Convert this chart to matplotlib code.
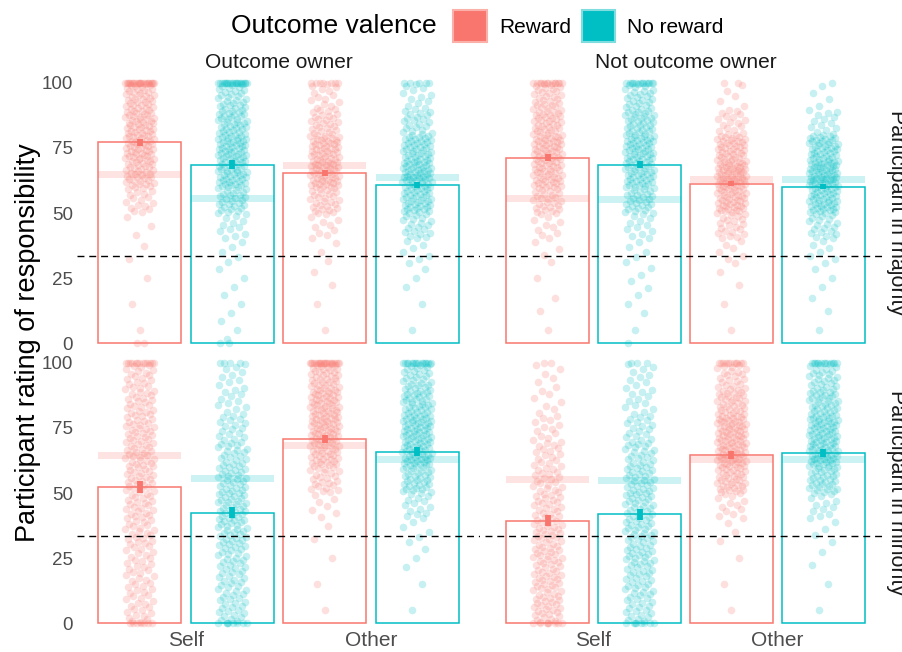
import numpy as np
import matplotlib.pyplot as plt
from matplotlib.patches import Patch

plt.rcParams['font.family'] = ['Liberation Sans', 'DejaVu Sans']

# labels
owner_labels = ["Outcome owner", "Not outcome owner"]
group_labels = ["Participant in majority", "Participant in minority"]
target_labels = ["Self", "Other"]
valence_labels = ["Reward", "No reward"]
colors = ["#F8766D", "#00BFC4"]
edge_light = ["#FBB0AA", "#7FDDE0"]

# bar order inside a panel: Self-Reward, Self-No reward, Other-Reward, Other-No reward
mean_maj_owner = [77.2, 68.6, 65.5, 60.8]
mean_maj_other = [71.3, 68.5, 61.3, 60.1]
mean_min_owner = [52.2, 42.4, 70.7, 65.9]
mean_min_other = [39.4, 41.8, 64.6, 65.3]

se_maj_owner = [1.35, 1.7, 1.15, 1.15]
se_maj_other = [1.5, 1.35, 0.95, 0.95]
se_min_owner = [2.35, 2.1, 1.45, 1.7]
se_min_other = [2.1, 2.1, 1.6, 1.65]

# light reference bands
ref_maj_owner = [64.8, 55.6, 68.2, 63.5]
ref_maj_other = [55.5, 55.1, 63.0, 62.7]
ref_min_owner = [64.5, 55.4, 68.1, 63.0]
ref_min_other = [55.3, 54.9, 63.0, 62.7]

# individual ratings, read as counts per 10-point bin (0-10 ... 90-100)
hist_maj_owner = [[1, 1, 1, 2, 3, 17, 34, 42, 39, 34],
                  [3, 3, 3, 5, 12, 29, 42, 44, 36, 27],
                  [1, 1, 2, 3, 10, 27, 44, 42, 25, 14],
                  [1, 1, 3, 7, 20, 39, 49, 39, 22, 12]]
hist_maj_other = [[1, 2, 1, 4, 10, 27, 39, 42, 34, 27],
                  [1, 3, 4, 5, 12, 29, 39, 42, 34, 25],
                  [1, 1, 2, 7, 20, 42, 53, 39, 17, 5],
                  [1, 2, 3, 7, 20, 44, 56, 42, 14, 4]]
hist_min_owner = [[17, 17, 17, 20, 22, 25, 27, 25, 22, 20],
                  [20, 20, 22, 27, 29, 27, 22, 17, 12, 10],
                  [1, 1, 1, 2, 7, 22, 36, 44, 42, 34],
                  [1, 1, 3, 5, 14, 32, 44, 44, 36, 27]]
hist_min_other = [[25, 25, 25, 25, 22, 20, 17, 12, 7, 6],
                  [20, 22, 25, 25, 27, 27, 22, 17, 12, 10],
                  [1, 1, 1, 3, 12, 34, 46, 44, 32, 22],
                  [1, 1, 2, 4, 12, 32, 46, 44, 34, 25]]
# ratings sitting exactly at 100 and at 0
n100_maj_owner = [22, 20, 7, 5]
n100_maj_other = [12, 12, 2, 1]
n100_min_owner = [12, 4, 20, 14]
n100_min_other = [2, 3, 10, 12]
n0_maj_owner = [2, 2, 0, 0]
n0_maj_other = [0, 1, 0, 0]
n0_min_owner = [7, 7, 0, 0]
n0_min_other = [7, 7, 0, 0]

panels = [
    [(mean_maj_owner, se_maj_owner, ref_maj_owner, hist_maj_owner, n100_maj_owner, n0_maj_owner),
     (mean_maj_other, se_maj_other, ref_maj_other, hist_maj_other, n100_maj_other, n0_maj_other)],
    [(mean_min_owner, se_min_owner, ref_min_owner, hist_min_owner, n100_min_owner, n0_min_owner),
     (mean_min_other, se_min_other, ref_min_other, hist_min_other, n100_min_other, n0_min_other)],
]


def ratings_from_hist(hist, n100, n0):
    vals = []
    for b, c in enumerate(hist):
        for k in range(c):
            vals.append(b * 10 + (k + 0.5) * 10 / c)
    vals += [100.0] * n100 + [0.0] * n0
    return np.array(vals)


def spread(n, base=2):
    # radical-inverse sequence, used only for the horizontal jitter position
    out = np.zeros(n)
    for i in range(n):
        f, r, k = 1.0, 0.0, i + 1
        while k > 0:
            f /= base
            r += f * (k % base)
            k //= base
        out[i] = r
    return out


W, H = 902, 652
fig = plt.figure(figsize=(W / 100, H / 100), dpi=100)

col_px = [(77, 480), (485, 886)]
row_px = [(75, 351), (355, 631)]

bar_w = 0.45
offsets = [-0.25, 0.25]

for r in range(2):
    for c in range(2):
        x0, x1 = col_px[c]
        y0, y1 = row_px[r]
        ax = fig.add_axes([x0 / W, 1 - y1 / H, (x1 - x0) / W, (y1 - y0) / H])
        means, ses, refs, hists, n100s, n0s = panels[r][c]
        for i in range(4):
            t, v = divmod(i, 2)
            xc = t + 1 + offsets[v]
            col = colors[v]
            ax.bar(xc, means[i], width=bar_w, facecolor='none', edgecolor=col,
                   linewidth=1.1, zorder=2)
            ax.bar(xc, 2.7, bottom=refs[i] - 1.35, width=bar_w, color=col,
                   alpha=0.2, linewidth=0, zorder=1)
            vals = ratings_from_hist(hists[i], n100s[i], n0s[i])
            jit = 0.08 * (2 * spread(len(vals), 2 + (i % 2)) - 1)
            ax.scatter(xc + jit, vals, s=30, color=col, alpha=0.22,
                       linewidths=0, zorder=3)
            ax.vlines(xc, means[i] - ses[i], means[i] + ses[i], color=col,
                      linewidth=4.2, zorder=4)
        ax.axhline(100 / 3, color='black', linestyle=(0, (5, 3.5)),
                   linewidth=1.0, zorder=5)
        ax.set_xlim(0.41, 2.59)
        ax.set_ylim(-3, 103)
        for s in ax.spines.values():
            s.set_visible(False)
        ax.tick_params(length=0, labelsize=13.5, labelcolor='#4D4D4D', pad=3)
        ax.set_yticks([0, 25, 50, 75, 100])
        ax.set_xticks([1, 2])
        if c == 0:
            ax.set_yticklabels(['0', '25', '50', '75', '100'])
        else:
            ax.set_yticklabels([])
        if r == 1:
            ax.set_xticklabels(target_labels, fontsize=15)
            ax.tick_params(axis='x', pad=0)
        else:
            ax.set_xticklabels([])
        if r == 0:
            ax.set_title(owner_labels[c], fontsize=15, color='#1A1A1A', pad=5)
        if c == 1:
            ax.text(1.0 + 11 / (x1 - x0), 0.5, group_labels[r], transform=ax.transAxes,
                    rotation=270, ha='center', va='center', fontsize=15.5,
                    color='#1A1A1A')

fig.text(28 / W, 1 - 343 / H, "Participant rating of responsibility", rotation=90,
         ha='center', va='center', fontsize=19.5)

fig.text(437 / W, 1 - 26 / H, "Outcome valence", ha='right', va='center', fontsize=19)
handles = [Patch(facecolor=colors[k], edgecolor=edge_light[k], linewidth=1.5)
           for k in range(2)]
leg = fig.legend(handles, valence_labels, ncol=2, loc='center left',
                 bbox_to_anchor=(445 / W, 1 - 26 / H), frameon=False,
                 fontsize=15, handlelength=1.6, handleheight=2.0,
                 handletextpad=0.6, columnspacing=0.5, borderaxespad=0)

fig.savefig("out.png", dpi=100)
